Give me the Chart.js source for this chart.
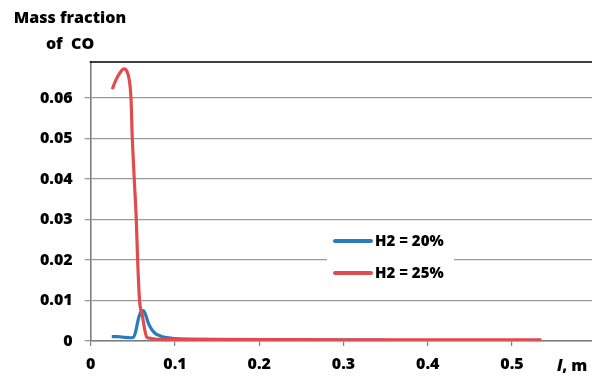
<!DOCTYPE html>
<html>
<head>
<meta charset="utf-8">
<script src="https://cdn.jsdelivr.net/npm/chart.js@4"></script>
<style>
html,body{margin:0;padding:0;background:#fff;}
#wrap{width:592px;height:376px;position:relative;}
</style>
</head>
<body>
<div id="wrap"><canvas id="c" width="592" height="376"></canvas></div>
<script>
// ---- data ----
const titleLines = ["Mass fraction", "of  CO"];
const xAxisLabelItalic = "l";
const xAxisLabelRest = ", m";
const yTicks = [0, 0.01, 0.02, 0.03, 0.04, 0.05, 0.06];
const xTicks = [0, 0.1, 0.2, 0.3, 0.4, 0.5];

const seriesNames = ["H2 = 20%", "H2 = 25%"];

const h20x = [0.025, 0.032, 0.04, 0.047, 0.0505, 0.053, 0.0546, 0.057, 0.0595, 0.0624, 0.065, 0.0684, 0.072, 0.0763, 0.082, 0.088, 0.1, 0.13, 0.2, 0.3, 0.35];
const h20y = [0.0011, 0.0011, 0.0009, 0.0008, 0.0009, 0.002, 0.0035, 0.0058, 0.0072, 0.0075, 0.0066, 0.0044, 0.003, 0.0019, 0.0013, 0.0009, 0.0006, 0.0004, 0.0003, 0.0002, 0.0002];

const h25x = [0.0256, 0.030, 0.035, 0.0395, 0.043, 0.046, 0.0478, 0.0494, 0.0517, 0.0541, 0.0557, 0.058, 0.0612, 0.0635, 0.0664, 0.07, 0.076, 0.09, 0.15, 0.3, 0.45, 0.535];
const h25y = [0.0622, 0.0645, 0.0663, 0.0672, 0.0666, 0.0642, 0.060, 0.050, 0.040, 0.030, 0.020, 0.010, 0.0064, 0.0035, 0.001, 0.0007, 0.0005, 0.0004, 0.0004, 0.0003, 0.0003, 0.0003];

const colors = ["#2a7bbd", "#e04b50"];
const FONT = "'Open Sans', 'Liberation Sans', sans-serif";
const W = "800";

function pts(xs, ys){ return xs.map((x,i)=>({x:x, y:ys[i]})); }

const decor = {
  id: 'decor',
  beforeDatasetsDraw(chart){
    const ctx = chart.ctx, a = chart.chartArea;
    ctx.save();
    ctx.strokeStyle = '#000';
    ctx.lineWidth = 1.6;
    ctx.beginPath();
    ctx.moveTo(a.left - 1, a.top);
    ctx.lineTo(a.right, a.top);
    ctx.stroke();
    ctx.restore();
  },
  afterDraw(chart){
    const ctx = chart.ctx, a = chart.chartArea;
    ctx.save();
    // title
    ctx.fillStyle = '#000';
    ctx.font = W + " 16px " + FONT;
    ctx.textAlign = 'center';
    ctx.textBaseline = 'middle';
    ctx.fillText(titleLines[0], 70, 18);
    ctx.fillText(titleLines[1], 70, 44);
    // x-axis label
    ctx.textAlign = 'left';
    ctx.font = "italic " + W + " 16px " + FONT;
    ctx.fillText(xAxisLabelItalic, 557, 366);
    const w = ctx.measureText(xAxisLabelItalic).width;
    ctx.font = W + " 16px " + FONT;
    ctx.fillText(xAxisLabelRest, 557 + w, 366);
    // legend
    ctx.fillStyle = '#fff';
    ctx.fillRect(327, 226, 127, 60);
    const ly = [241, 273];
    chart.data.datasets.forEach((ds, i) => {
      ctx.strokeStyle = ds.borderColor;
      ctx.lineWidth = 4;
      ctx.lineCap = 'round';
      ctx.beginPath();
      ctx.moveTo(335, ly[i]);
      ctx.lineTo(371, ly[i]);
      ctx.stroke();
      ctx.fillStyle = '#000';
      ctx.font = W + " 15px " + FONT;
      ctx.textAlign = 'left';
      ctx.textBaseline = 'middle';
      ctx.fillText(ds.label, 375, ly[i] + 1);
    });
    ctx.restore();
  }
};

new Chart(document.getElementById('c'), {
  type: 'line',
  data: {
    datasets: [
      { label: seriesNames[0], data: pts(h20x, h20y), borderColor: colors[0], backgroundColor: colors[0],
        borderWidth: 3.2, pointRadius: 0, cubicInterpolationMode: 'monotone', order: 2 },
      { label: seriesNames[1], data: pts(h25x, h25y), borderColor: colors[1], backgroundColor: colors[1],
        borderWidth: 3.2, pointRadius: 0, cubicInterpolationMode: 'monotone', order: 1 }
    ]
  },
  options: {
    responsive: false,
    animation: false,
    layout: { padding: { top: 62, left: 0, right: 0, bottom: 0 } },
    plugins: { legend: { display: false }, title: { display: false }, tooltip: { enabled: false } },
    scales: {
      x: {
        type: 'linear',
        min: 0, max: 0.595,
        afterBuildTicks(s){ s.ticks = xTicks.map(v => ({ value: v })); },
        afterFit(s){ s.height = 35; },
        border: { color: '#7f7f7f', width: 1.6 },
        grid: { drawOnChartArea: false, drawTicks: true, tickLength: 5, color: '#7f7f7f', lineWidth: 1.2 },
        ticks: { color: '#000', font: { family: FONT, size: 16, weight: W }, padding: 9, maxRotation: 0,
          callback: v => String(v) }
      },
      y: {
        type: 'linear',
        min: 0, max: 0.0689,
        afterBuildTicks(s){ s.ticks = yTicks.map(v => ({ value: v })); },
        afterFit(s){ s.width = 90.7; },
        border: { color: '#7f7f7f', width: 1.6 },
        grid: { drawTicks: true, tickLength: 6, color: '#9a9a9a', lineWidth: 1.3 },
        ticks: { color: '#000', font: { family: FONT, size: 16, weight: W }, padding: 12,
          callback: v => String(v) }
      }
    }
  },
  plugins: [decor]
});
</script>
</body>
</html>
